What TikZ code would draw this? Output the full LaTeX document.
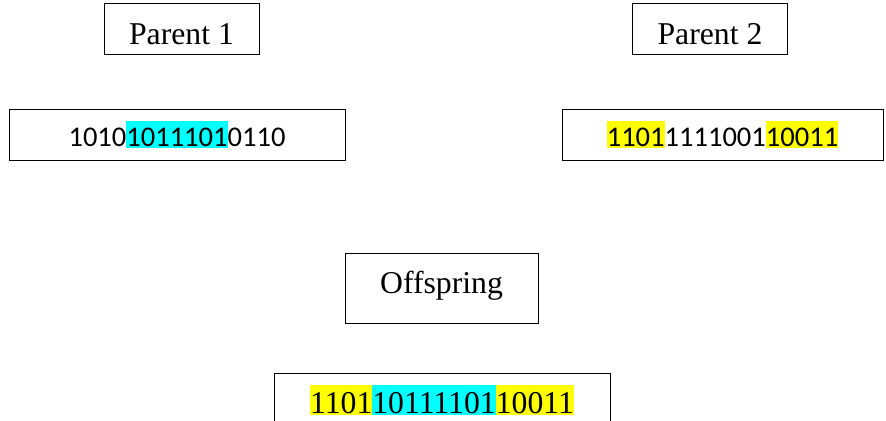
\documentclass[tikz,border=0pt]{standalone}
\usepackage{fontspec}
\setmainfont{Liberation Serif}
\newfontfamily\bitfont{Carlito}
\usepackage{xcolor}
\definecolor{hlcyan}{RGB}{0,255,255}
\definecolor{hlyellow}{RGB}{255,255,0}
% highlighted run of bits
\newcommand{\hlbits}[2]{{\setlength{\fboxsep}{0pt}\colorbox{#1}{\rule[-0.05em]{0pt}{0.95em}#2}}}
\tikzset{
namebox/.style={
  draw,
  line width=0.75pt,
  inner sep=0pt,
  minimum width=116.25pt,
  minimum height=38.25pt,
  font=\fontsize{23.8}{28}\selectfont
},
bitsbox/.style={
  draw,
  line width=0.75pt,
  inner sep=0pt,
  minimum height=38.25pt,
  font=\bitfont\fontsize{21.4}{25}\selectfont
},
}

\begin{document}
\begin{tikzpicture}[x=0.75pt,y=-0.75pt]
\useasboundingbox (0,0) rectangle (886,421);
% the parents
\foreach \x/\i in {181.5/1,710/2}
{
  \node (p\i) [namebox,text height=23.25pt,text depth=0pt] at (\x,29) {Parent \i};
}
\node (p1bits) [bitsbox,minimum width=252pt] at (177,134.5)
  {1010\hlbits{hlcyan}{1011101}0110};
\node (p2bits) [bitsbox,minimum width=240.75pt] at (722.5,134.5)
  {\hlbits{hlyellow}{1101}1111001\hlbits{hlyellow}{10011}};
% the child
\node (off) [namebox,minimum width=144.75pt,minimum height=52.5pt,text height=16.5pt,text depth=9pt] at (441.5,288) {Offspring};
\node (offbits) [namebox,anchor=north,minimum width=252pt,text height=30pt,text depth=60pt] at (442,373)
  {\hlbits{hlyellow}{1101}\hlbits{hlcyan}{10111101}\hlbits{hlyellow}{10011}};
\end{tikzpicture}
\end{document}
